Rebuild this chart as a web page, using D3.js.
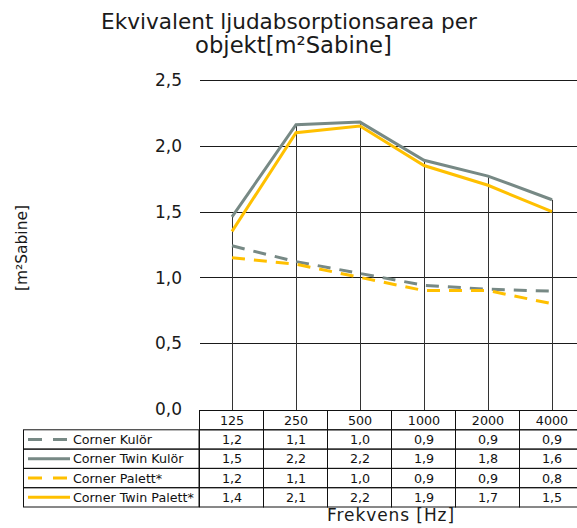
<!DOCTYPE html>
<html>
  <head>
    <meta http-equiv="Content-Type" content="text/html;charset=utf-8" />
    <title>Ekvivalent ljudabsorptionsarea</title>
    <style>
      body {
        margin: 0;
        background: #fff;
        font-family: "DejaVu Sans", Verdana, sans-serif;
      }
      svg {
        display: block;
      }
      .grid line {
        stroke: #1a1a1a;
        stroke-width: 1px;
      }
      .tick-label {
        font-size: 17px;
        fill: #1a1a1a;
      }
      .cell text {
        font-size: 12px;
        fill: #111;
      }
      path.series {
        fill: none;
        stroke-width: 3px;
      }
    </style>
    <script src="https://d3js.org/d3.v7.min.js"></script>
  </head>
  <body>
    <div id="chart"></div>
    <script type="text/javascript">
      const width = 577,
        height = 528;

      // frequencies (Hz)
      const categories = ["125", "250", "500", "1000", "2000", "4000"];

      // plotted values
      const cornerKulor = [1.24, 1.12, 1.03, 0.94, 0.91, 0.895];
      const cornerTwinKulor = [1.46, 2.16, 2.18, 1.89, 1.77, 1.59];
      const cornerPalett = [1.15, 1.1, 1.0, 0.9, 0.9, 0.8];
      const cornerTwinPalett = [1.35, 2.1, 2.15, 1.85, 1.7, 1.5];

      // values printed in the data table
      const tableKulor = ["1,2", "1,1", "1,0", "0,9", "0,9", "0,9"];
      const tableTwinKulor = ["1,5", "2,2", "2,2", "1,9", "1,8", "1,6"];
      const tablePalett = ["1,2", "1,1", "1,0", "0,9", "0,9", "0,8"];
      const tableTwinPalett = ["1,4", "2,1", "2,2", "1,9", "1,7", "1,5"];

      const yTicks = [0, 0.5, 1, 1.5, 2, 2.5];

      const gray = "#778985",
        gold = "#ffc000";

      const series = [
        { name: "Corner Kulör", values: cornerKulor, table: tableKulor, color: gray, dash: "13,9" },
        { name: "Corner Twin Kulör", values: cornerTwinKulor, table: tableTwinKulor, color: gray, dash: null },
        { name: "Corner Palett*", values: cornerPalett, table: tablePalett, color: gold, dash: "13,9" },
        { name: "Corner Twin Palett*", values: cornerTwinPalett, table: tableTwinPalett, color: gold, dash: null },
      ];

      const plot = { left: 200, top: 80, bottom: 409 };
      const bandW = 64;

      // scale a text's font size so it spans the given width
      function fitWidth(sel, target) {
        const node = sel.node();
        const size = parseFloat(getComputedStyle(node).fontSize);
        const w = node.getComputedTextLength();
        sel.style("font-size", (size * target) / w + "px");
        return sel;
      }

      // keep the font size, spread the letters to the given width
      function spreadTo(sel, target) {
        const node = sel.node();
        const w = node.getComputedTextLength();
        const n = sel.text().length;
        sel.style("letter-spacing", (target - w) / n + "px");
        return sel;
      }

      const x = d3
        .scaleBand()
        .domain(categories)
        .range([plot.left, plot.left + bandW * categories.length]);

      const y = d3.scaleLinear().domain([0, 2.5]).range([plot.bottom, plot.top]);

      const svg = d3
        .select("#chart")
        .append("svg")
        .attr("width", width)
        .attr("height", height);

      // title, two centred lines
      const t1 = svg
        .append("text")
        .attr("x", 289)
        .attr("y", 29)
        .attr("text-anchor", "middle")
        .style("font-size", "19px")
        .style("fill", "#1a1a1a")
        .text("Ekvivalent ljudabsorptionsarea per");
      fitWidth(t1, 376);
      const t2 = svg
        .append("text")
        .attr("x", 293.5)
        .attr("y", 53)
        .attr("text-anchor", "middle")
        .style("font-size", "19px")
        .style("fill", "#1a1a1a")
        .text("objekt[m²Sabine]");
      fitWidth(t2, 197);

      // horizontal gridlines
      svg
        .append("g")
        .attr("class", "grid")
        .selectAll("line")
        .data(yTicks.filter((d) => d > 0))
        .enter()
        .append("line")
        .attr("x1", plot.left)
        .attr("x2", width)
        .attr("y1", (d) => Math.round(y(d)) + 0.5)
        .attr("y2", (d) => Math.round(y(d)) + 0.5);

      // y tick labels
      svg
        .selectAll("text.tick-label")
        .data(yTicks)
        .enter()
        .append("text")
        .attr("class", "tick-label")
        .attr("x", 182)
        .attr("y", (d) => y(d))
        .attr("dy", "0.36em")
        .attr("text-anchor", "end")
        .text((d) => d3.format(".1f")(d).replace(".", ","));

      // drop lines from the highest value down to the table
      svg
        .append("g")
        .attr("class", "grid")
        .selectAll("line")
        .data(categories)
        .enter()
        .append("line")
        .attr("x1", (d) => Math.round(x(d) + bandW / 2) + 0.5)
        .attr("x2", (d) => Math.round(x(d) + bandW / 2) + 0.5)
        .attr("y1", (d, i) => y(d3.max(series, (s) => s.values[i])))
        .attr("y2", plot.bottom + 1)
        .style("stroke", "#333");

      const line = d3
        .line()
        .x((d, i) => x(categories[i]) + bandW / 2)
        .y((d) => y(d));

      svg
        .selectAll("path.series")
        .data(series)
        .enter()
        .append("path")
        .attr("class", "series")
        .attr("d", (d) => line(d.values))
        .style("stroke", (d) => d.color)
        .style("stroke-dasharray", (d) => d.dash);

      // data table
      const rowH = 19.3;
      const tableTop = 410.5;
      const legendLeft = 23.5;
      const table = svg.append("g").attr("class", "cell");

      // header row
      categories.forEach(function (c) {
        table
          .append("rect")
          .attr("x", Math.round(x(c)) - 0.5)
          .attr("y", tableTop)
          .attr("width", bandW)
          .attr("height", rowH)
          .style("fill", "none")
          .style("stroke", "#111");
        table
          .append("text")
          .attr("x", x(c) + bandW / 2)
          .attr("y", tableTop + rowH / 2)
          .attr("dy", "0.36em")
          .attr("text-anchor", "middle")
          .text(c);
      });

      series.forEach(function (s, r) {
        const ry = tableTop + rowH * (r + 1);
        table
          .append("rect")
          .attr("x", legendLeft)
          .attr("y", ry)
          .attr("width", plot.left - legendLeft - 1)
          .attr("height", rowH)
          .style("fill", "none")
          .style("stroke", "#111");
        table
          .append("line")
          .attr("x1", 28)
          .attr("x2", s.dash ? 67 : 70)
          .attr("y1", ry + rowH / 2)
          .attr("y2", ry + rowH / 2)
          .style("stroke", s.color)
          .style("stroke-width", 3)
          .style("stroke-dasharray", s.dash ? "14,11" : null);
        table
          .append("text")
          .attr("class", "legend-name")
          .attr("x", 73)
          .attr("y", ry + rowH / 2)
          .attr("dy", "0.36em")
          .text(s.name);
        categories.forEach(function (c, i) {
          table
            .append("rect")
            .attr("x", Math.round(x(c)) - 0.5)
            .attr("y", ry)
            .attr("width", bandW)
            .attr("height", rowH)
            .style("fill", "none")
            .style("stroke", "#111");
          table
            .append("text")
            .attr("x", x(c) + bandW / 2)
            .attr("y", ry + rowH / 2)
            .attr("dy", "0.36em")
            .attr("text-anchor", "middle")
            .text(s.table[i]);
        });
      });

      // size the table text from the widest legend name
      const longest = table.selectAll("text.legend-name").filter((d, i) => i === 3);
      fitWidth(longest, 121);
      table.selectAll("text").style("font-size", longest.style("font-size"));

      // axis titles
      const xTitle = svg
        .append("text")
        .attr("x", 327)
        .attr("y", 521)
        .style("font-size", "17px")
        .style("fill", "#1a1a1a")
        .text("Frekvens [Hz]");
      spreadTo(xTitle, 128);

      const yTitle = svg
        .append("text")
        .attr("transform", "translate(27,248) rotate(-90)")
        .attr("text-anchor", "middle")
        .style("font-size", "15px")
        .style("fill", "#1a1a1a")
        .text("[m²Sabine]");
      fitWidth(yTitle, 86);
    </script>
  </body>
</html>
